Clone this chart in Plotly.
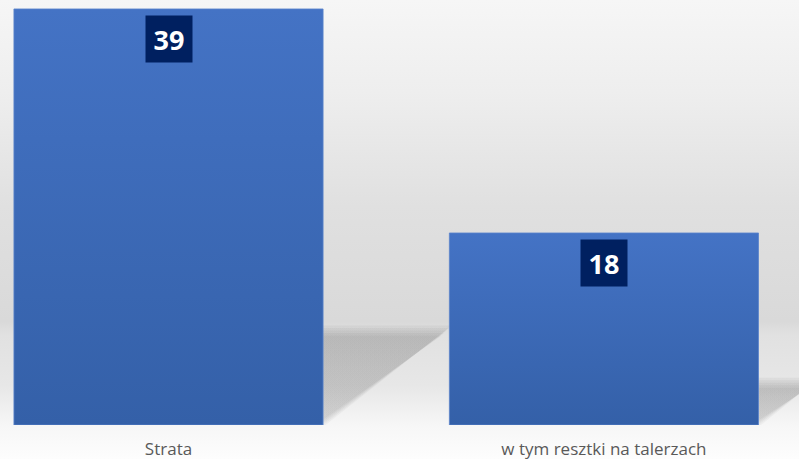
import base64
import plotly.graph_objects as go

# Chart data
categories = ["Strata", "w tym resztki na talerzach"]
values = [39, 18]

# Styling
BAR_WIDTH = 0.71
BAR_BOTTOM = "#3460a8"
BAR_TOP = "#4473c5"
LABEL_BG = "#002060"
SHADOW_RATIO = 0.233     # shadow height as share of bar height
SHADOW_SKEW = 1.3        # horizontal run per unit of shadow height (pixels)

W, H = 799, 459
M_BOTTOM = 34
Y_MAX = 39.84
X_RANGE = [-0.387, 1.448]
PX_X = W / (X_RANGE[1] - X_RANGE[0])
PX_Y = (H - M_BOTTOM) / Y_MAX

# Backdrop: soft vertical grey gradient (wall + floor look)
svg = f"""<svg xmlns='http://www.w3.org/2000/svg' width='{W}' height='{H}' preserveAspectRatio='none'>
<defs><linearGradient id='g' x1='0' y1='0' x2='0' y2='1'>
<stop offset='0' stop-color='#f6f6f6'/>
<stop offset='0.20' stop-color='#eeeeee'/>
<stop offset='0.45' stop-color='#e0e0e0'/>
<stop offset='0.70' stop-color='#d9d9d9'/>
<stop offset='0.73' stop-color='#e1e1e1'/>
<stop offset='0.84' stop-color='#e7e7e7'/>
<stop offset='0.93' stop-color='#f7f7f7'/>
<stop offset='1' stop-color='#fdfdfd'/>
</linearGradient></defs>
<rect width='{W}' height='{H}' fill='url(#g)'/></svg>"""
bg_uri = "data:image/svg+xml;base64," + base64.b64encode(svg.encode()).decode()

fig = go.Figure()

# Perspective shadows cast to the right of each bar, layered for soft edges
layers = 5
for i, v in enumerate(values):
    x0 = i - BAR_WIDTH / 2
    x1 = i + BAR_WIDTH / 2
    h = SHADOW_RATIO * v
    dx = SHADOW_SKEW * h * PX_Y / PX_X
    for k in range(layers):
        inset = (k - 1) * 2.5
        ht = h - inset / PX_Y
        xs = inset / PX_X
        fig.add_trace(go.Scatter(
            x=[x0, x1 - xs, x1 + dx - xs, x0 + dx, x0],
            y=[0, 0, ht, ht, 0],
            fill="toself", mode="lines", line=dict(width=0),
            fillgradient=dict(
                type="vertical",
                colorscale=[[0, "rgba(110,110,110,0.06)"],
                            [1, "rgba(110,110,110,0.085)"]],
            ),
            hoverinfo="skip", showlegend=False,
        ))

# Bars with a top-to-bottom blue gradient
for i, v in enumerate(values):
    x0 = i - BAR_WIDTH / 2
    x1 = i + BAR_WIDTH / 2
    fig.add_trace(go.Scatter(
        x=[x0, x1, x1, x0, x0],
        y=[0, 0, v, v, 0],
        fill="toself", mode="lines",
        line=dict(width=0.8, color="#5a84cc"),
        fillgradient=dict(type="vertical",
                          colorscale=[[0, BAR_BOTTOM], [1, BAR_TOP]]),
        name=categories[i], hoverinfo="name+y", showlegend=False,
    ))

# Value labels in dark boxes near the top of each bar
for i, v in enumerate(values):
    fig.add_annotation(
        x=i, y=v, xref="x", yref="y",
        yanchor="top", xanchor="center", yshift=-6,
        text=f"<b>{v}</b>", showarrow=False,
        bgcolor=LABEL_BG, width=46, height=46, borderpad=0,
        font=dict(family="Open Sans", size=27, color="white"),
    )

fig.update_layout(
    width=W, height=H,
    margin=dict(l=0, r=0, t=0, b=M_BOTTOM),
    paper_bgcolor="#f8f8f8",
    plot_bgcolor="rgba(0,0,0,0)",
    images=[dict(source=bg_uri, xref="paper", yref="paper",
                 x=0, y=1, sizex=1, sizey=H / (H - M_BOTTOM),
                 xanchor="left", yanchor="top",
                 sizing="stretch", layer="below")],
    xaxis=dict(range=X_RANGE, tickvals=list(range(len(categories))),
               ticktext=categories, showgrid=False, zeroline=False,
               showline=False, ticks="", fixedrange=True,
               automargin=False, ticklabelstandoff=12,
               tickfont=dict(family="Open Sans", size=17, color="#595959")),
    yaxis=dict(range=[0, Y_MAX], showgrid=False, zeroline=False,
               showline=False, showticklabels=False, ticks="",
               fixedrange=True),
    showlegend=False,
)

fig.write_html("out.html")
